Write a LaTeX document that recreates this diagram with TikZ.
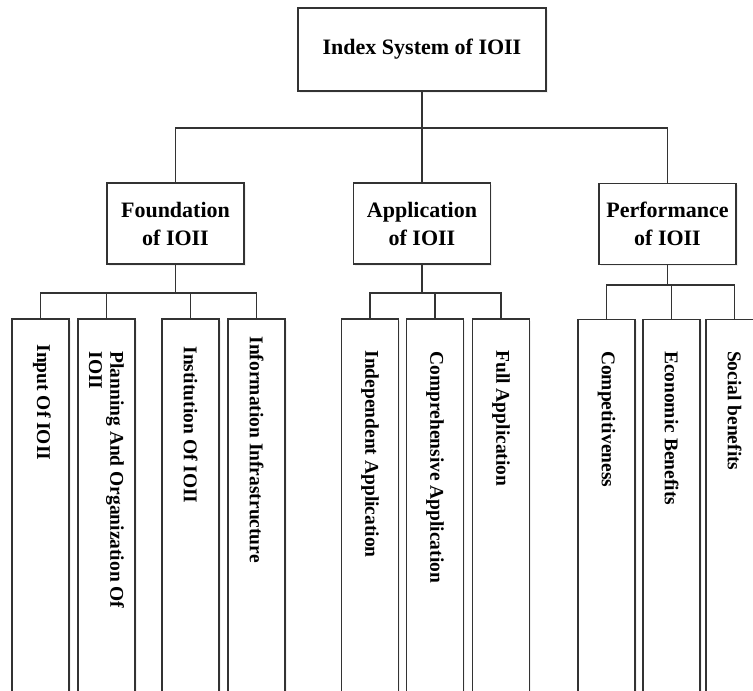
\documentclass[tikz,border=0pt]{standalone}
\usepackage{fontspec}
\setmainfont{Liberation Serif}
\usetikzlibrary{shadows}

\begin{document}
\begin{tikzpicture}[x=0.75pt, y=-0.75pt]
% Index system of IOII drawn as a tree
\def\px{0.75pt}
\providecommand{\ioiiLineColor}{black!80}
\providecommand{\ioiiShadowColor}{black!45}
\tikzset{
  ioiibox/.style={draw=\ioiiLineColor, fill=white, line width=1.1pt, inner sep=0pt, align=center,
    font=\fontsize{16.5}{21}\selectfont\bfseries,
    drop shadow={shadow xshift=1.2pt, shadow yshift=-1.2pt, opacity=0.12, fill=\ioiiShadowColor}},
  topbox/.style={ioiibox, minimum width=248*\px, minimum height=83*\px},
  midbox/.style={ioiibox, minimum width=137*\px, minimum height=81*\px},
  leafbox/.style={ioiibox, minimum width=57*\px, minimum height=381*\px},
  leaftext/.style={rotate=-90, anchor=west, inner sep=0pt, align=left,
    font=\fontsize{14.6}{15.8}\selectfont\bfseries},
  link/.style={draw=\ioiiLineColor, line width=1.2pt}
}
% Page frame (leaves run past the lower edge)
\useasboundingbox (0,0) rectangle (753,691);
\clip (0,0) rectangle (753,691);
% Top level
\node[topbox] (top) at (422,49.5) {\raisebox{3pt}{Index System of IOII}};
% Second level
\node[midbox] (found) at (175.5,223.5) {Foundation\\of IOII};
\node[midbox] (appl) at (422,223.5) {Application\\of IOII};
\node[midbox] (perf) at (667.5,224) {Performance\\of IOII};
% Leaves of foundation
\node[leafbox] (f1) at (40.5,509.5) {};
\node[leafbox] (f2) at (106.5,509.5) {};
\node[leafbox] (f3) at (190.5,509.5) {};
\node[leafbox] (f4) at (256.5,509.5) {};
% Leaves of application
\node[leafbox] (a1) at (370,509.5) {};
\node[leafbox] (a2) at (435,509.5) {};
\node[leafbox] (a3) at (501,509.5) {};
% Leaves of performance
\node[leafbox] (p1) at (606.5,510) {};
\node[leafbox] (p2) at (671.5,510) {};
\node[leafbox] (p3) at (734.5,510) {};
% Leaf texts
\node[leaftext] (f1t) at ([yshift=-26*\px, xshift=1.5*\px]f1.north) {Input Of IOII};
\node[leaftext] (f2t) at ([yshift=-33*\px]f2.north) {Planning And Organization Of\\IOII};
\node[leaftext] (f3t) at ([yshift=-28*\px]f3.north) {Institution Of IOII};
\node[leaftext] (f4t) at ([yshift=-18*\px]f4.north) {Information Infrastructure};
\node[leaftext] (a1t) at ([yshift=-32*\px]a1.north) {Independent Application};
\node[leaftext] (a2t) at ([yshift=-33*\px]a2.north) {Comprehensive Application};
\node[leaftext] (a3t) at ([yshift=-32*\px]a3.north) {Full Application};
\node[leaftext] (p1t) at ([yshift=-32*\px]p1.north) {Competitiveness};
\node[leaftext] (p2t) at ([yshift=-32*\px]p2.north) {Economic Benefits};
\node[leaftext] (p3t) at ([yshift=-32*\px]p3.north) {Social benefits};
% Connectors, first level
\draw[link] (top.south) -- ++(0,36.5) -| (found.north);
\draw[link] (top.south) -- (appl.north);
\draw[link] (top.south) -- ++(0,36.5) -| (perf.north);
% Connectors, second level
\draw[link] (found.south) -- ++(0,28) -| (f1.north);
\draw[link] (found.south) -- ++(0,28) -| (f2.north);
\draw[link] (found.south) -- ++(0,28) -| (f3.north);
\draw[link] (found.south) -- ++(0,28) -| (f4.north);
\draw[link] (appl.south) -- ++(0,28) -| (a1.north);
\draw[link] (appl.south) -- ++(0,28) -| (a2.north);
\draw[link] (appl.south) -- ++(0,28) -| (a3.north);
\draw[link] (perf.south) -- ++(0,20) -| (p1.north);
\draw[link] (perf.south) -- ++(0,20) -| (p2.north);
\draw[link] (perf.south) -- ++(0,20) -| (p3.north);
\end{tikzpicture}
\end{document}
